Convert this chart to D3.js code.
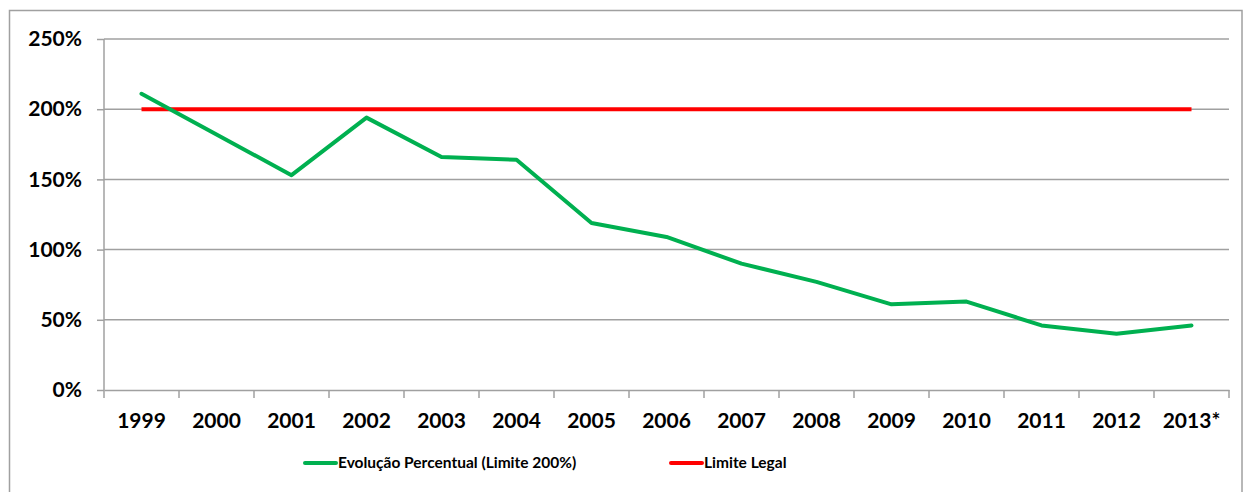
<!DOCTYPE html>
<html>
<head>
<meta charset="utf-8">
<script src="https://cdn.jsdelivr.net/npm/d3@7"></script>
<style>
  body { margin: 0; background: #fff; }
  svg text { font-family: Lato, "Open Sans", sans-serif; font-weight: bold; fill: #000; }
</style>
</head>
<body>
<div id="chart"></div>
<script>
// data
const years = ['1999', '2000', '2001', '2002', '2003', '2004', '2005', '2006',
               '2007', '2008', '2009', '2010', '2011', '2012', '2013*'];
const evolucao = [211, 182, 153, 194, 166, 164, 119, 109, 90, 77, 61, 63, 46, 40, 46];
const limiteLegal = [200, 200, 200, 200, 200, 200, 200, 200, 200, 200, 200, 200, 200, 200, 200];
const yTicks = [0, 50, 100, 150, 200, 250];
const seriesNames = ['Evolução Percentual (Limite 200%)', 'Limite Legal'];

const width = 1243;
const height = 492;
const margin = {top: 39, right: 14, bottom: 102, left: 104};

const svg = d3.select('#chart')
    .append('svg')
        .attr('width', width)
        .attr('height', height);

// outer chart frame
svg.append('rect')
    .attr('x', 9.5).attr('y', 10.5)
    .attr('width', width - 10.5).attr('height', height)
    .attr('fill', 'none')
    .attr('stroke', '#a0a0a0')
    .attr('stroke-width', 1.5);

const x = d3.scaleBand()
    .domain(years)
    .range([margin.left, width - margin.right]);

const y = d3.scaleLinear()
    .domain([0, 250])
    .range([height - margin.bottom, margin.top]);

// grid lines
svg.append('g')
    .selectAll('line')
    .data(yTicks.filter(d => d > 0))
    .join('line')
        .attr('x1', margin.left)
        .attr('x2', width - margin.right)
        .attr('y1', d => y(d))
        .attr('y2', d => y(d))
        .attr('stroke', '#a0a0a0')
        .attr('stroke-width', 1.5);

function yAxis(g) {
    g.attr('transform', `translate(${margin.left}, 0)`)
        .call(d3.axisLeft(y).tickValues(yTicks).tickFormat(d => d + '%').tickSize(7).tickPadding(15))
        .attr('font-size', '21px')
        .attr('font-family', null);
    g.selectAll('path, line').attr('stroke', '#a0a0a0').attr('stroke-width', 1.5);
    g.select('.domain').attr('d', `M0,${y(250)}V${y(0)}`);
}

function xAxis(g) {
    g.attr('transform', `translate(0, ${height - margin.bottom})`)
        .call(d3.axisBottom(x).tickSize(0).tickPadding(23))
        .attr('font-size', '21px')
        .attr('font-family', null);
    g.select('.domain').attr('stroke', '#a0a0a0').attr('stroke-width', 1.5);
    // tick marks sit between categories
    g.selectAll('line.sep')
        .data(years.concat(['end']))
        .join('line')
            .attr('class', 'sep')
            .attr('x1', (d, i) => margin.left + i * x.bandwidth())
            .attr('x2', (d, i) => margin.left + i * x.bandwidth())
            .attr('y1', 0)
            .attr('y2', 8)
            .attr('stroke', '#a0a0a0')
            .attr('stroke-width', 1.5);
}

svg.append('g').call(yAxis);
svg.append('g').call(xAxis);

const line = d3.line()
    .x((d, i) => x(years[i]) + x.bandwidth() / 2)
    .y(d => y(d));

svg.append('path')
    .datum(limiteLegal)
    .attr('fill', 'none')
    .attr('stroke', '#ff0000')
    .attr('stroke-width', 4)
    .attr('d', line);

svg.append('path')
    .datum(evolucao)
    .attr('fill', 'none')
    .attr('stroke', '#00b050')
    .attr('stroke-width', 4)
    .attr('stroke-linejoin', 'round')
    .attr('stroke-linecap', 'round')
    .attr('d', line);

// legend
const legendColors = ['#00b050', '#ff0000'];
const legendX = [305, 671];
const legend = svg.append('g')
    .selectAll('g')
    .data(seriesNames)
    .join('g')
        .attr('transform', (d, i) => `translate(${legendX[i]}, 463)`);

legend.append('line')
    .attr('x1', 0).attr('x2', 31)
    .attr('stroke', (d, i) => legendColors[i])
    .attr('stroke-width', 4)
    .attr('stroke-linecap', 'round');

legend.append('text')
    .attr('x', 33)
    .attr('dy', '0.35em')
    .attr('font-size', '15.5px')
    .text(d => d);
</script>
</body>
</html>
